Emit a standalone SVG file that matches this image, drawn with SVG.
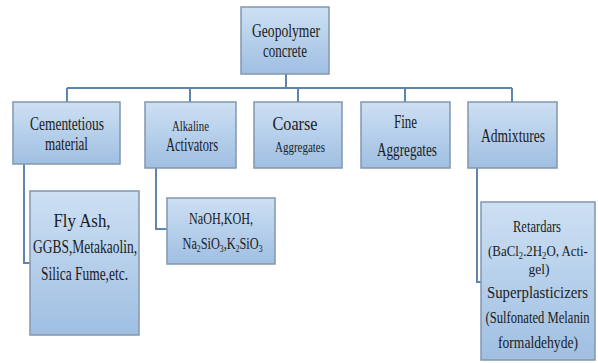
<svg xmlns="http://www.w3.org/2000/svg" width="598" height="363" viewBox="0 0 598 363">
<defs>
<linearGradient id="boxfill" x1="0" y1="0" x2="0" y2="1">
<stop offset="0" stop-color="#cde0f3"/>
<stop offset="1" stop-color="#9fbfe2"/>
</linearGradient>
<style>
.box{fill:url(#boxfill);stroke:#8397ad;stroke-width:1.5}
.conn{fill:none;stroke:#5f84ad;stroke-width:2}
text{font-family:"Liberation Serif","Times New Roman",serif;fill:#1c1c24;text-anchor:middle}
.l{font-size:18px}
.s{font-size:14px}
.m{font-size:16px}
.n{font-size:15px}
.sub{font-size:10px}
</style>
</defs>
<rect width="598" height="363" fill="#ffffff"/>
<g id="connectors">
<path class="conn" d="M286,74 V88 M67,88 H512 M67,88 V102 M190,88 V102 M298,88 V102 M405,88 V102 M512,88 V102"/>
<path class="conn" d="M24,164 V263 H30"/>
<path class="conn" d="M156,168 V229 H167"/>
<path class="conn" d="M477,168 V282 H481"/>
</g>
<g id="geopolymer">
<rect class="box" x="241" y="7" width="88" height="67"/>
<text class="l" x="286" y="37" textLength="68" lengthAdjust="spacingAndGlyphs">Geopolymer</text>
<text class="l" x="285" y="57" textLength="44" lengthAdjust="spacingAndGlyphs">concrete</text>
</g>
<g id="cementetious">
<rect class="box" x="13" y="102" width="107" height="62"/>
<text class="l" x="67" y="130" textLength="74" lengthAdjust="spacingAndGlyphs">Cementetious</text>
<text class="l" x="66.5" y="150" textLength="43" lengthAdjust="spacingAndGlyphs">material</text>
</g>
<g id="alkaline">
<rect class="box" x="145" y="102" width="91" height="66"/>
<text class="s" x="190.5" y="131" textLength="37" lengthAdjust="spacingAndGlyphs">Alkaline</text>
<text class="l" x="192" y="151" textLength="52" lengthAdjust="spacingAndGlyphs">Activators</text>
</g>
<g id="coarse">
<rect class="box" x="254" y="102" width="88" height="66"/>
<text class="l" x="295" y="130" textLength="45" lengthAdjust="spacingAndGlyphs">Coarse</text>
<text class="s" x="300" y="152" textLength="50" lengthAdjust="spacingAndGlyphs">Aggregates</text>
</g>
<g id="fine">
<rect class="box" x="361" y="102" width="89" height="66"/>
<text class="l" x="405.5" y="128" textLength="23" lengthAdjust="spacingAndGlyphs">Fine</text>
<text class="l" x="407" y="156" textLength="60" lengthAdjust="spacingAndGlyphs">Aggregates</text>
</g>
<g id="admixtures">
<rect class="box" x="468" y="102" width="89" height="66"/>
<text class="l" x="513" y="142" textLength="64" lengthAdjust="spacingAndGlyphs">Admixtures</text>
</g>
<g id="binders">
<rect class="box" x="30" y="191" width="109" height="144"/>
<text class="l" x="82" y="227" textLength="57" lengthAdjust="spacingAndGlyphs">Fly Ash,</text>
<text class="l" x="85" y="253" textLength="104" lengthAdjust="spacingAndGlyphs">GGBS,Metakaolin,</text>
<text class="l" x="84.5" y="280" textLength="87" lengthAdjust="spacingAndGlyphs">Silica Fume,etc.</text>
</g>
<g id="activators">
<rect class="box" x="167" y="198" width="108" height="66"/>
<text class="m" x="221" y="224" textLength="64" lengthAdjust="spacingAndGlyphs">NaOH,KOH,</text>
<text class="m" transform="translate(222.5,249) scale(0.77,1)" x="0" y="0">Na<tspan class="sub" dy="3">2</tspan><tspan dy="-3">SiO</tspan><tspan class="sub" dy="3">3</tspan><tspan dy="-3">,K</tspan><tspan class="sub" dy="3">2</tspan><tspan dy="-3">SiO</tspan><tspan class="sub" dy="3">3</tspan></text>
</g>
<g id="additives">
<rect class="box" x="481" y="202" width="114" height="158"/>
<text class="m" x="537" y="232" textLength="48" lengthAdjust="spacingAndGlyphs">Retardars</text>
<text class="n" transform="translate(538,256) scale(0.86,1)" x="0" y="0">(BaCl<tspan class="sub" dy="3">2</tspan><tspan dy="-3">.2H</tspan><tspan class="sub" dy="3">2</tspan><tspan dy="-3">O, Acti-</tspan></text>
<text class="n" x="539" y="274" textLength="21" lengthAdjust="spacingAndGlyphs">gel)</text>
<text class="m" x="537.5" y="298" textLength="101" lengthAdjust="spacingAndGlyphs">Superplasticizers</text>
<text class="m" transform="translate(537.5,323) scale(0.79,1)" x="0" y="0">(Sulfonated Melanin</text>
<text class="m" x="538" y="348" textLength="80" lengthAdjust="spacingAndGlyphs">formaldehyde)</text>
</g>
</svg>
